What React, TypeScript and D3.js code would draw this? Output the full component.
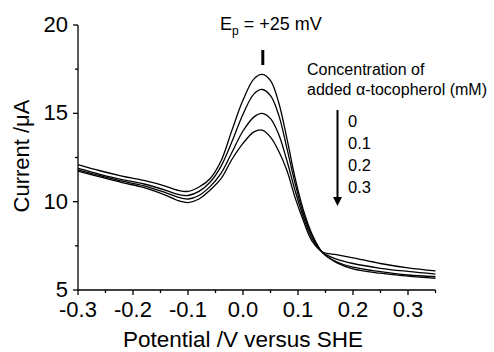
import React from "react";
import * as d3 from "d3";

const potentials = [-0.3, -0.26, -0.22, -0.18, -0.14, -0.12, -0.1, -0.08, -0.06, -0.04, -0.02, 0.0, 0.02, 0.035, 0.05, 0.065, 0.08, 0.095, 0.11, 0.125, 0.145, 0.17, 0.2, 0.25, 0.3, 0.35];

const current0 = [12.1, 11.75, 11.45, 11.2, 10.87, 10.66, 10.58, 10.83, 11.3, 12.3, 14.05, 15.75, 16.95, 17.2, 16.85, 15.6, 13.55, 11.3, 9.5, 8.2, 7.1, 6.55, 6.2, 5.95, 5.78, 5.66];
const current1 = [11.88, 11.55, 11.25, 11.0, 10.64, 10.43, 10.35, 10.58, 11.1, 12.0, 13.4, 14.95, 16.1, 16.35, 16.0, 14.9, 13.0, 11.0, 9.3, 8.1, 7.1, 6.6, 6.3, 6.04, 5.85, 5.75];
const current2 = [11.8, 11.47, 11.16, 10.9, 10.5, 10.27, 10.15, 10.35, 10.85, 11.6, 12.8, 14.0, 14.8, 15.0, 14.7, 13.8, 12.3, 10.6, 9.1, 7.95, 7.12, 6.75, 6.5, 6.23, 6.05, 5.9];
const current3 = [11.73, 11.4, 11.08, 10.8, 10.36, 10.08, 9.95, 10.15, 10.65, 11.3, 12.4, 13.3, 13.95, 14.05, 13.65, 12.85, 11.75, 10.2, 8.9, 7.8, 7.15, 7.0, 6.82, 6.5, 6.25, 6.08];

const seriesList = [current0, current1, current2, current3];

const xMajorTicks = [-0.3, -0.2, -0.1, 0.0, 0.1, 0.2, 0.3];
const xMinorTicks = [-0.25, -0.15, -0.05, 0.05, 0.15, 0.25, 0.35];
const yMajorTicks = [5, 10, 15, 20];
const yMinorTicks = [7.5, 12.5, 17.5];
const xTickLabels = ["-0.3", "-0.2", "-0.1", "0.0", "0.1", "0.2", "0.3"];

const legendTitle = ["Concentration of", "added \u03b1-tocopherol (mM)"];
const legendLabels = ["0", "0.1", "0.2", "0.3"];
const peakPotential = 0.036;

const FONT = "'Liberation Sans', Arial, Helvetica, sans-serif";

export default function App() {
  const W = 494;
  const H = 352;
  const x = d3.scaleLinear().domain([-0.3, 0.35]).range([78, 435.5]);
  const y = d3.scaleLinear().domain([5, 20]).range([290, 25]);

  const line = d3
    .line<[number, number]>()
    .x((d) => x(d[0]))
    .y((d) => y(d[1]))
    .curve(d3.curveCatmullRom.alpha(0.5));

  const axisY = y(5);
  const axisX = x(-0.3);

  return (
    <svg
      width={W}
      height={H}
      style={{ position: "absolute", left: 0, top: 0, background: "#fff" }}
      fontFamily={FONT}
    >
      <rect x={0} y={0} width={W} height={H} fill="#fff" />
      {seriesList.map((s, i) => (
        <path
          key={i}
          d={line(potentials.map((p, j) => [p, s[j]] as [number, number])) || ""}
          fill="none"
          stroke="#000"
          strokeWidth={1.3}
        />
      ))}

      {/* axes */}
      <line x1={axisX} x2={x(0.35)} y1={axisY} y2={axisY} stroke="#000" strokeWidth={1.3} />
      <line x1={axisX} x2={axisX} y1={y(5)} y2={y(20)} stroke="#000" strokeWidth={1.3} />
      {xMajorTicks.map((t) => (
        <line key={"xM" + t} x1={x(t)} x2={x(t)} y1={axisY} y2={axisY + 5} stroke="#000" strokeWidth={1.3} />
      ))}
      {xMinorTicks.map((t) => (
        <line key={"xm" + t} x1={x(t)} x2={x(t)} y1={axisY} y2={axisY + 3} stroke="#000" strokeWidth={1.3} />
      ))}
      {yMajorTicks.map((t) => (
        <line key={"yM" + t} x1={axisX - 5} x2={axisX} y1={y(t)} y2={y(t)} stroke="#000" strokeWidth={1.3} />
      ))}
      {yMinorTicks.map((t) => (
        <line key={"ym" + t} x1={axisX - 3} x2={axisX} y1={y(t)} y2={y(t)} stroke="#000" strokeWidth={1.3} />
      ))}
      {xMajorTicks.map((t, i) => (
        <text key={"xl" + t} x={x(t)} y={axisY + 27} textAnchor="middle" fontSize={22}>
          {xTickLabels[i]}
        </text>
      ))}
      {yMajorTicks.map((t) => (
        <text key={"yl" + t} x={axisX - 10} y={y(t) + 7} textAnchor="end" fontSize={22}>
          {t}
        </text>
      ))}
      <text x={243} y={347} textAnchor="middle" fontSize={22.5}>
        Potential /V versus SHE
      </text>
      <text transform="translate(29,156) rotate(-90)" textAnchor="middle" fontSize={22}>
        Current /μA
      </text>

      {/* peak annotation */}
      <text x={220} y={30} fontSize={18}>
        E<tspan fontSize={12} dy={5}>p</tspan>
        <tspan dy={-5}> = +25 mV</tspan>
      </text>
      <line x1={x(peakPotential)} x2={x(peakPotential)} y1={50} y2={65} stroke="#000" strokeWidth={3} />

      {/* legend */}
      {legendTitle.map((t, i) => (
        <text key={"lt" + i} x={307} y={75 + i * 20} fontSize={16}>
          {t}
        </text>
      ))}
      <line x1={337.5} x2={337.5} y1={110} y2={198} stroke="#000" strokeWidth={2} />
      <path d="M333,197 L342,197 L337.5,206 Z" fill="#000" />
      {legendLabels.map((t, i) => (
        <text key={"ll" + i} x={348} y={127 + i * 22} fontSize={16.5}>
          {t}
        </text>
      ))}
    </svg>
  );
}
